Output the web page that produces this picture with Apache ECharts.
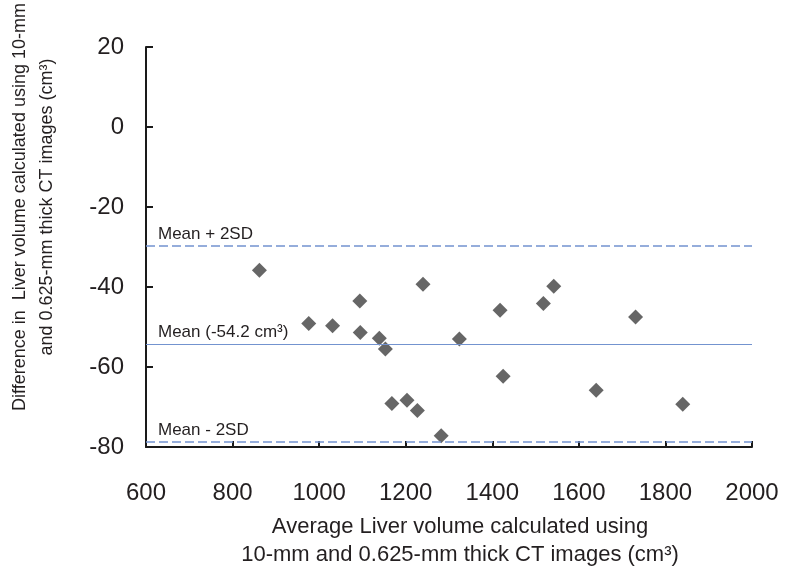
<!DOCTYPE html>
<html>
<head>
<meta charset="utf-8">
<script src="https://cdn.jsdelivr.net/npm/echarts@6/dist/echarts.min.js"></script>
<style>html,body{margin:0;padding:0;background:#fff;}#chart{width:785px;height:576px;}</style>
</head>
<body>
<div id="chart"></div>
<script>
// Data
var avgVolume = [862, 976, 1031, 1094, 1095, 1139, 1153, 1240, 1168, 1203, 1227, 1282, 1324, 1418, 1425, 1518, 1542, 1640, 1731, 1840];
var diffVolume = [-35.8, -49.1, -49.7, -43.5, -51.4, -52.8, -55.5, -39.3, -69.1, -68.3, -70.9, -77.2, -53.0, -45.8, -62.3, -44.1, -39.8, -65.8, -47.5, -69.3];
var meanDiff = -54.2;
var upperLimit = -29.6;
var lowerLimit = -78.8;
var refLabels = ['Mean + 2SD', 'Mean (-54.2 cm\u00B3)', 'Mean - 2SD'];
var xTitleLines = ['Average Liver volume calculated using', '10-mm and 0.625-mm thick CT images (cm\u00B3)'];
var yTitleLines = ['Difference in  Liver volume calculated using 10-mm', 'and 0.625-mm thick CT images (cm\u00B3)'];

var FONT = "'Liberation Sans', Arial, Helvetica, sans-serif";
var TXT = '#231f20';
var LINE_BLUE = '#7393cf';

var points = avgVolume.map(function (x, i) { return [x, diffVolume[i]]; });

var chart = echarts.init(document.getElementById('chart'));
chart.setOption({
  backgroundColor: '#ffffff',
  animation: false,
  grid: { left: 146, right: 33, top: 47, bottom: 129, containLabel: false },
  xAxis: {
    type: 'value', min: 600, max: 2000, interval: 200,
    axisLine: { show: true, onZero: false, lineStyle: { color: '#1a1a1a', width: 2 } },
    axisTick: { show: true, inside: true, length: 6, lineStyle: { color: '#1a1a1a', width: 2 } },
    axisLabel: { color: TXT, fontSize: 24, fontFamily: FONT, margin: 34, formatter: function (v) { return String(v); } },
    splitLine: { show: false }
  },
  yAxis: {
    type: 'value', min: -80, max: 20, interval: 20,
    axisLine: { show: true, onZero: false, lineStyle: { color: '#1a1a1a', width: 2 } },
    axisTick: { show: true, inside: true, length: 7, lineStyle: { color: '#1a1a1a', width: 2 } },
    axisLabel: { color: TXT, fontSize: 24, fontFamily: FONT, margin: 22, formatter: function (v) { return String(v); } },
    splitLine: { show: false }
  },
  graphic: [
    { type: 'text', x: 460, y: 527, style: { text: xTitleLines[0], font: '22px ' + FONT, fill: TXT, textAlign: 'center', textVerticalAlign: 'middle' } },
    { type: 'text', x: 460, y: 555, style: { text: xTitleLines[1], font: '22px ' + FONT, fill: TXT, textAlign: 'center', textVerticalAlign: 'middle' } },
    { type: 'text', x: 20, y: 207, rotation: Math.PI / 2, style: { text: yTitleLines[0], font: '18px ' + FONT, fill: TXT, textAlign: 'center', textVerticalAlign: 'middle' } },
    { type: 'text', x: 47, y: 207, rotation: Math.PI / 2, style: { text: yTitleLines[1], font: '18px ' + FONT, fill: TXT, textAlign: 'center', textVerticalAlign: 'middle' } }
  ],
  series: [{
    type: 'scatter',
    data: points,
    symbol: 'diamond',
    symbolSize: 15,
    itemStyle: { color: '#404040' },
    markLine: {
      silent: true,
      symbol: 'none',
      animation: false,
      label: {
        show: true, position: 'insideStartTop', color: TXT, fontSize: 17, fontFamily: FONT,
        distance: [12, 3]
      },
      data: [
        { yAxis: upperLimit, name: refLabels[0], label: { formatter: refLabels[0] }, lineStyle: { type: [9, 4], color: LINE_BLUE, width: 1.5 } },
        { yAxis: meanDiff, name: refLabels[1], label: { formatter: refLabels[1] }, lineStyle: { type: 'solid', color: LINE_BLUE, width: 1.2 } },
        { yAxis: lowerLimit, name: refLabels[2], label: { formatter: refLabels[2] }, lineStyle: { type: [9, 4], color: LINE_BLUE, width: 1.5 } }
      ]
    }
  }]
});
</script>
</body>
</html>
